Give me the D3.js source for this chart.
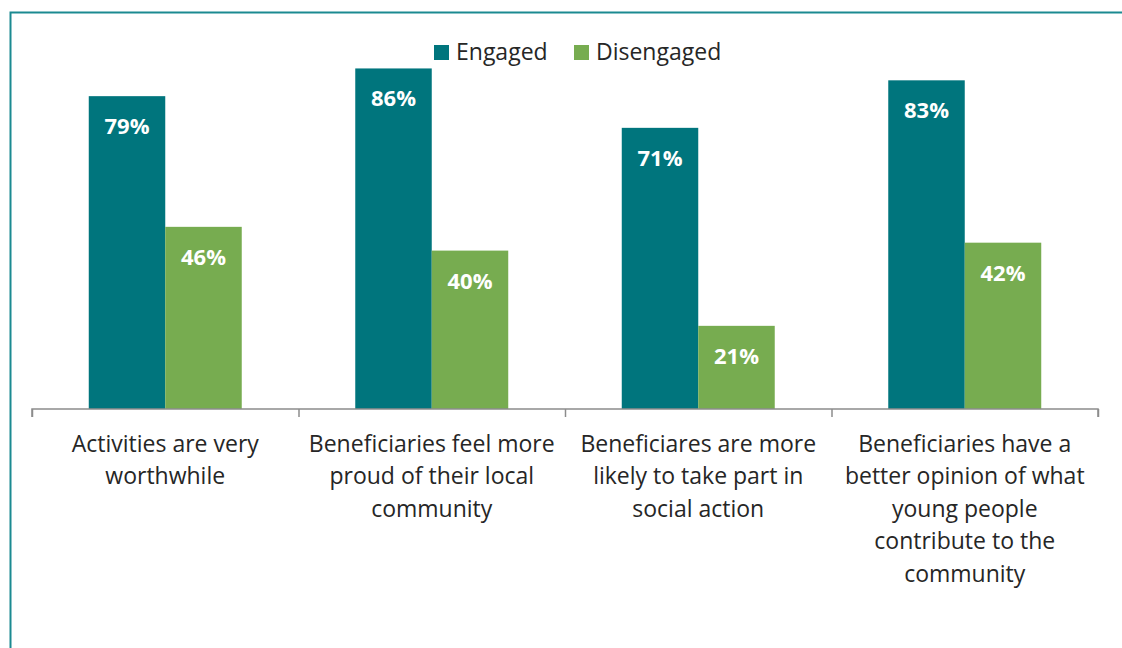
<!DOCTYPE html>
<html>
<head>
<meta charset="utf-8">
<script src="https://cdn.jsdelivr.net/npm/d3@7"></script>
<style>
  body { margin: 0; background: #fff; }
  svg text { font-family: "Open Sans", Lato, sans-serif; }
</style>
</head>
<body>
<div id="canvas"></div>
<script>
"use strict"

// values
let categories = [
    ["Activities are very", "worthwhile"],
    ["Beneficiaries feel more", "proud of their local", "community"],
    ["Beneficiares are more", "likely to take part in", "social action"],
    ["Beneficiaries have a", "better opinion of what", "young people", "contribute to the", "community"]
];
let seriesNames = ["Engaged", "Disengaged"];
let engaged = [79, 86, 71, 83];
let disengaged = [46, 40, 21, 42];
let colours = ["#00757d", "#77ac50"];

let drawing = d3.select("#canvas")
    .append("svg")
    .attr("width", 1122)
    .attr("height", 648);

// teal frame, runs off the right and bottom edge
drawing.append("rect")
    .attr("x", 10.5)
    .attr("y", 12.5)
    .attr("width", 1200)
    .attr("height", 700)
    .attr("fill", "none")
    .attr("stroke", "#1b8a91")
    .attr("stroke-width", 2);

let x0 = d3.scaleBand()
    .domain(d3.range(categories.length))
    .range([32, 1098])
    .paddingInner(0)
    .paddingOuter(0);

let x1 = d3.scaleBand()
    .domain(seriesNames)
    .range([0, x0.bandwidth()])
    .paddingInner(0)
    .paddingOuter(0.742);

let y = d3.scaleLinear()
    .domain([0, 100])
    .range([409, 13]);

let rows = categories.map((c, i) => [engaged[i], disengaged[i]]);

let groups = drawing.selectAll("g.cat")
    .data(rows)
    .join("g")
    .attr("class", "cat")
    .attr("transform", (d, i) => "translate(" + x0(i) + ",0)");

groups.selectAll("rect")
    .data(d => d.map((v, j) => ({ name: seriesNames[j], value: v, j: j })))
    .join("rect")
    .attr("x", d => x1(d.name))
    .attr("y", d => y(d.value))
    .attr("width", x1.bandwidth())
    .attr("height", d => y(0) - y(d.value))
    .attr("fill", d => colours[d.j]);

groups.selectAll("text.val")
    .data(d => d.map((v, j) => ({ name: seriesNames[j], value: v })))
    .join("text")
    .attr("class", "val")
    .attr("x", d => x1(d.name) + x1.bandwidth() / 2)
    .attr("y", d => y(d.value) + 38)
    .attr("text-anchor", "middle")
    .attr("fill", "#fff")
    .attr("font-weight", "bold")
    .attr("font-size", 22)
    .text(d => d.value + "%");

// category axis with ticks between the groups
let axis = d3.axisBottom(d3.scaleLinear().domain([0, categories.length]).range([32, 1098]))
    .ticks(categories.length)
    .tickSize(8)
    .tickFormat("");

let axisG = drawing.append("g")
    .attr("transform", "translate(0,409)")
    .call(axis);
axisG.selectAll("path, line").attr("stroke", "#8c8c8c").attr("stroke-width", 1.5);
axisG.select(".domain").attr("d", "M32,8V0H1098V8");

groups.selectAll("text.cat")
    .data((d, i) => [categories[i]])
    .join("text")
    .attr("class", "cat")
    .attr("x", x0.bandwidth() / 2)
    .attr("y", 452)
    .attr("text-anchor", "middle")
    .attr("fill", "#262626")
    .attr("font-size", 23)
    .selectAll("tspan")
    .data(d => d)
    .join("tspan")
    .attr("x", x0.bandwidth() / 2)
    .attr("dy", (d, i) => i === 0 ? 0 : 32.4)
    .text(d => d);

// legend
let legendX = [434, 574];
let legend = drawing.selectAll("g.legend")
    .data(seriesNames)
    .join("g")
    .attr("class", "legend")
    .attr("transform", (d, i) => "translate(" + legendX[i] + ",45)");

legend.append("rect")
    .attr("width", 15)
    .attr("height", 15)
    .attr("fill", (d, i) => colours[i]);

legend.append("text")
    .attr("x", 22)
    .attr("y", 15)
    .attr("fill", "#262626")
    .attr("font-size", 23)
    .text(d => d);
</script>
</body>
</html>
